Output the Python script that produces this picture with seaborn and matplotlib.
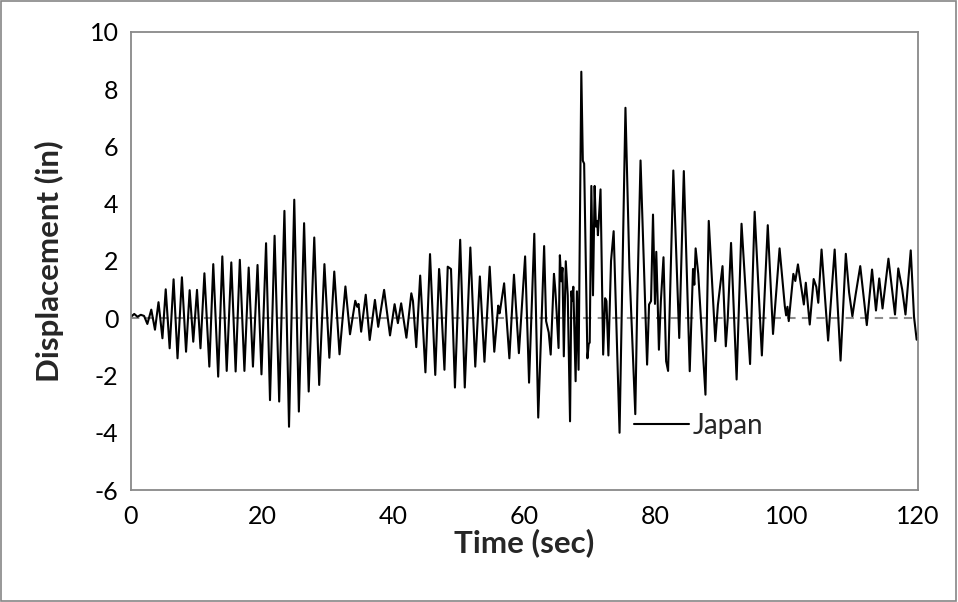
import pandas as pd
import seaborn as sns
import matplotlib.pyplot as plt
from matplotlib.patches import Rectangle

# Peaks / troughs (time in sec, displacement in in)
time_sec = [
    0.0, 0.5, 1.0, 1.5, 2.0, 2.5, 3.1, 3.66, 4.2, 4.8, 5.3, 5.9, 6.5, 7.1, 7.77,
    8.4, 8.95, 9.5, 10.07, 10.6, 11.2, 11.95, 12.55, 13.3, 13.93, 14.6, 15.3,
    15.96, 16.6, 17.3, 17.95, 18.6, 19.3, 19.9, 20.6, 21.2, 21.9, 22.6, 23.4,
    24.1, 24.9, 25.6, 26.4, 27.1, 27.95, 28.7, 29.5, 30.25, 31.0, 31.8, 32.7,
    33.4, 34.2, 34.5, 34.7, 35.1, 35.8, 36.4, 37.2, 37.7, 38.6, 39.5, 40.2,
    40.7, 41.2, 42.0, 42.75, 43.0, 43.5, 44.1, 44.9, 45.6, 46.4, 46.98, 47.1,
    47.8, 48.3, 48.8, 49.4, 50.2, 50.9, 51.75, 52.5, 53.2, 53.9, 54.7, 55.4,
    56.0, 56.2, 56.3, 56.9, 57.7, 58.4, 59.15, 60.1, 60.7, 61.5, 62.1, 63.0,
    63.3, 63.5, 63.7, 64.0, 64.5, 64.7, 64.9, 65.2, 65.4, 65.6, 65.8, 66.0,
    66.3, 66.6, 66.95, 67.15, 67.3, 67.45, 67.8, 68.0, 68.25, 68.67, 68.9,
    69.1, 69.6, 69.8, 69.95, 70.2, 70.35, 70.45, 70.7, 70.9, 71.1, 71.2, 71.6,
    72.0, 72.3, 72.5, 72.8, 73.2, 73.6, 74.5, 75.4, 76.0, 76.9, 77.2, 77.7,
    78.7, 79.0, 79.3, 79.6, 79.9, 80.1, 80.3, 80.5, 80.8, 81.2, 81.6, 81.9,
    82.7, 83.6, 84.3, 85.2, 85.7, 85.9, 86.1, 86.5, 87.6, 88.1, 89.1, 89.5,
    90.2, 90.7, 91.0, 91.5, 92.35, 93.1, 94.4, 95.1, 96.2, 97.1, 97.9, 98.9,
    99.7, 99.9, 100.1, 100.3, 101.0, 101.3, 101.7, 102.1, 102.6, 102.9, 103.5,
    104.1, 104.5, 104.8, 105.3, 106.3, 107.3, 108.2, 109.0, 109.5, 110.0,
    110.5, 111.2, 111.7, 112.2, 113.0, 113.6, 114.1, 114.6, 115.5, 116.5,
    117.0, 117.6, 118.1, 118.9, 119.4, 119.8, 120.0,
]
displacement = [
    0.05, 0.15, 0.05, 0.12, 0.08, -0.2, 0.3, -0.4, 0.56, -0.7, 1.01, -1.05, 1.36,
    -1.4, 1.43, -1.17, 0.98, -0.82, 0.99, -1.05, 1.57, -1.69, 1.89, -2.04, 2.16,
    -1.84, 1.95, -1.86, 2.04, -1.84, 1.77, -1.69, 1.86, -1.96, 2.62, -2.86,
    2.88, -2.91, 3.75, -3.79, 4.14, -3.26, 3.32, -2.56, 2.82, -2.33, 1.89,
    -1.38, 1.63, -1.26, 1.11, -0.56, 0.61, 0.4, 0.5, -0.47, 0.82, -0.76, 0.64,
    -0.3, 0.99, -0.6, 0.49, -0.17, 0.52, -0.68, 0.87, 0.6, -1.01, 1.49, -1.89,
    2.24, -1.98, 1.72, 1.4, -1.8, 1.8, 1.72, -2.42, 2.74, -2.42, 2.47, -1.69,
    1.46, -1.52, 1.8, -1.17, 0.44, 0.17, 0.3, 1.22, -1.4, 1.52, -1.22, 2.16,
    -2.25, 2.95, -3.47, 2.52, -0.1, -0.3, -0.5, -1.27, 1.55, 1.0, 0.24, -1.04,
    2.2, 1.29, 1.76, -1.33, 1.99, 0.8, -3.6, 0.94, 0.6, 1.1, -2.2, 0.94, -1.8,
    8.61, 5.5, 5.4, -1.4, -0.9, -0.85, 4.62, 2.46, 0.8, 4.62, 3.2, 3.4, 2.9,
    4.5, -1.27, 0.7, 0.6, -1.3, 2.0, 3.04, -4.0, 7.35, 1.76, -3.35, 0.6, 5.51,
    -1.62, 0.48, 0.6, 3.62, 0.5, 2.32, 0.7, -1.1, 0.6, 2.13, -1.5, -1.84, 5.16,
    -0.69, 5.14, -1.85, 1.72, 1.17, 2.44, 1.55, -2.67, 3.4, -0.8, 0.47, 1.82,
    -0.98, 0.0, 2.63, -2.14, 3.3, -1.6, 3.72, -1.3, 3.25, -0.55, 2.44, 0.42,
    0.1, 0.4, -0.1, 1.55, 1.3, 1.88, 1.24, 0.48, 1.24, -0.22, 1.37, 1.1, 0.54,
    2.4, -0.78, 2.4, -1.48, 2.25, 0.9, 0.07, 0.83, 1.82, 0.8, -0.24, 1.7, 0.27,
    1.39, 0.34, 2.08, 0.13, 1.74, 1.0, 0.13, 2.37, 0.05, -0.75, -0.7,
]
series_name = "Japan"
x_ticks = [0, 20, 40, 60, 80, 100, 120]
y_ticks = [-6, -4, -2, 0, 2, 4, 6, 8, 10]

df = pd.DataFrame({"time": time_sec, "disp": displacement})

sns.set_style("white")
plt.rcParams["font.family"] = ["Lato", "DejaVu Sans"]
plt.rcParams["axes.unicode_minus"] = False

fig = plt.figure(figsize=(9.58, 6.02), dpi=100)
ax = fig.add_axes([0.1367, 0.186, 0.8215, 0.761])

gray = "#898989"
ax.axhline(0, color="#8c8c8c", lw=1.5, ls=(0, (4, 3)), zorder=1)
sns.lineplot(data=df, x="time", y="disp", color="black", lw=1.5,
             sort=False, estimator=None, label=series_name, ax=ax, zorder=2)

ax.set_xlim(0, 120)
ax.set_ylim(-6, 10)
ax.set_xticks(x_ticks)
ax.set_yticks(y_ticks)
for s in ax.spines.values():
    s.set_color(gray)
    s.set_linewidth(1.3)
ax.tick_params(axis="both", direction="out", length=5, width=1.3, color=gray,
               labelsize=18, labelcolor="black", pad=4)
ax.tick_params(axis="x", pad=6)

ax.set_xlabel("Time (sec)", fontsize=22.5, fontweight="bold")
ax.set_ylabel("Displacement (in)", fontsize=22.5, fontweight="bold")
ax.xaxis.set_label_coords(0.5, -0.083)
ax.yaxis.set_label_coords(-0.085, 0.5)

ax.legend(loc="center left", bbox_to_anchor=(0.639, 0.14), frameon=False,
          fontsize=20, handlelength=2.0, handletextpad=0.12, borderpad=0,
          borderaxespad=0)

fig.patches.append(Rectangle((0.001, 0.002), 0.997, 0.996, transform=fig.transFigure,
                             fill=False, edgecolor="#868686", lw=1.2))

fig.savefig("out.png", dpi=100)
